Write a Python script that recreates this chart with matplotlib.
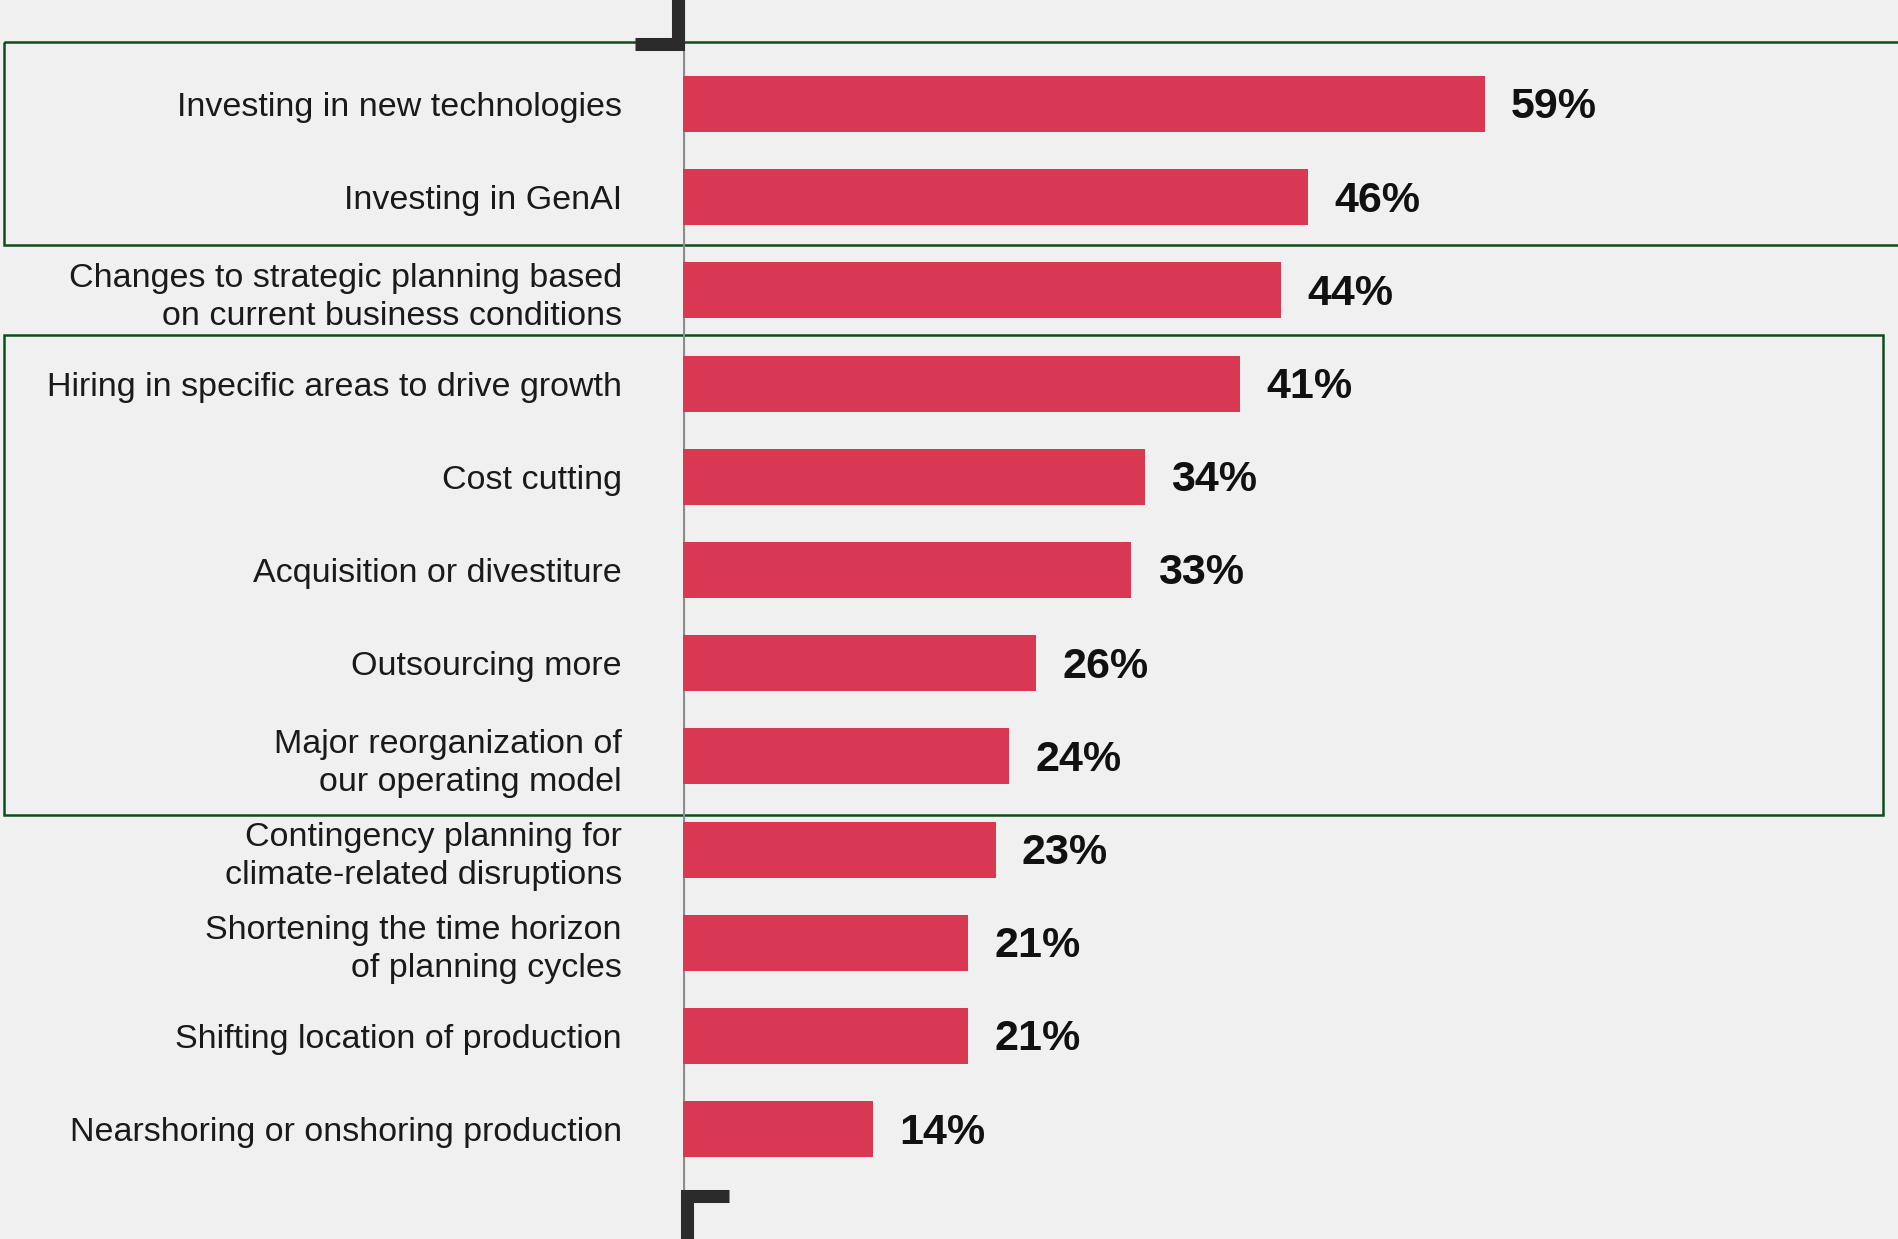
import matplotlib.pyplot as plt
from matplotlib.patches import Rectangle
from matplotlib.lines import Line2D

# пункты опроса и доля ответивших, %
labels = [
    "Investing in new technologies",
    "Investing in GenAI",
    "Changes to strategic planning based\non current business conditions",
    "Hiring in specific areas to drive growth",
    "Cost cutting",
    "Acquisition or divestiture",
    "Outsourcing more",
    "Major reorganization of\nour operating model",
    "Contingency planning for\nclimate-related disruptions",
    "Shortening the time horizon\nof planning cycles",
    "Shifting location of production",
    "Nearshoring or onshoring production",
]
values = [59, 46, 44, 41, 34, 33, 26, 24, 23, 21, 21, 14]

# группы строк, обведённые рамками (первая и последняя строка)
groups = [(0, 1), (3, 7)]

bg = "#f0f0f0"
bar_color = "#d93853"
frame_color = "#0e4d1c"
dark = "#2b2b2b"

plt.rcParams['font.family'] = ['Liberation Sans', 'DejaVu Sans']

W, H = 1898, 1239
fig = plt.figure(figsize=(W / 100, H / 100), dpi=100, facecolor=bg)
x0 = 683
ax = fig.add_axes([x0 / W, 0, (W - x0) / W, 1])
ax.set_facecolor(bg)

px_per_unit = 13.59
row_step = 93.2
first_row = 104
ax.set_xlim(0, (W - x0) / px_per_unit)
ax.set_ylim((H - first_row) / row_step, -first_row / row_step)

rows = list(range(len(values)))
ax.barh(rows, values, height=0.6, color=bar_color, zorder=3)

for r, v in zip(rows, values):
    ax.annotate(f"{v}%", (v, r), xytext=(19, -2.5), textcoords="offset points",
                ha="left", va="center", fontsize=31, fontweight="bold",
                color="#111111")

ax.set_yticks(rows)
ax.set_yticklabels(labels, fontsize=24.5, color="#1a1a1a", linespacing=1.28)
ax.tick_params(axis="y", length=0, pad=44)
ax.set_xticks([])
for s in ax.spines.values():
    s.set_visible(False)

# вертикальная ось
ax.axvline(0, color="#8c8c8c", lw=3, zorder=2)

# рамки вокруг групп: (верх, низ, правый край) в пикселях
frames = [(42, 245, W + 20), (335, 815, 1883)]

def yp(p):
    return (p - first_row) / row_step

def xp(p):
    return (p - x0) / px_per_unit

for top, bottom, right in frames:
    ax.add_patch(Rectangle((xp(4), yp(top)), xp(right) - xp(4), yp(bottom) - yp(top),
                           fill=False, ec=frame_color, lw=1.8,
                           clip_on=False, zorder=1))

# уголки сверху и снизу оси
top_corner = Line2D([xp(635), xp(677.5), xp(677.5)], [yp(43.5), yp(43.5), yp(-5)],
                    color=dark, lw=9.4, solid_joinstyle="miter",
                    solid_capstyle="butt", clip_on=False, zorder=4)
bot_corner = Line2D([xp(729), xp(686.5), xp(686.5)], [yp(1196), yp(1196), yp(1250)],
                    color=dark, lw=9.4, solid_joinstyle="miter",
                    solid_capstyle="butt", clip_on=False, zorder=4)
ax.add_line(top_corner)
ax.add_line(bot_corner)

fig.savefig("out.png", dpi=100, facecolor=bg)
